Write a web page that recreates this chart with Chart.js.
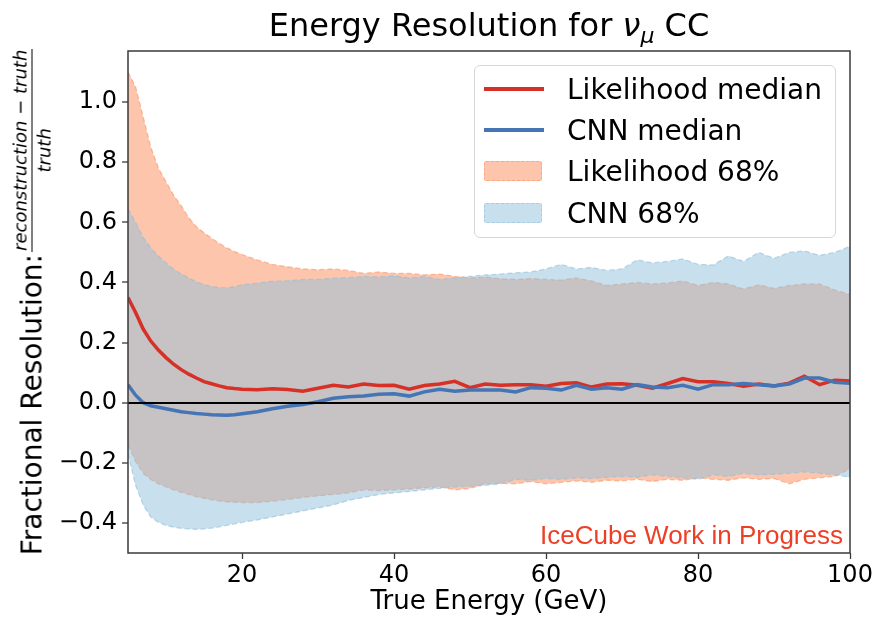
<!DOCTYPE html>
<html>
<head>
<meta charset="utf-8">
<script src="https://cdn.jsdelivr.net/npm/chart.js@4.4.1/dist/chart.umd.min.js"></script>
<style>
  body { margin: 0; background: #fff; }
  #wrap { position: relative; width: 880px; height: 618px; font-family: "DejaVu Sans", sans-serif; color: #000; }
  #grafico { position: absolute; left: 0; top: 0; }
  #titulo { position: absolute; left: 128px; width: 722px; top: 6px; text-align: center; font-size: 32px; white-space: nowrap; }
  #titulo sub { font-size: 22px; vertical-align: -7px; }
  #ylabel { position: absolute; left: 32px; top: 302px; width: 500px; transform: translate(-50%, -50%) rotate(-90deg);
            white-space: nowrap; font-size: 28px; display: flex; align-items: center; justify-content: center; }
  .frac { display: inline-flex; flex-direction: column; align-items: center; font-size: 18px; font-style: italic; margin-left: 2px; }
  .frac .num { border-bottom: 1.3px solid #000; padding: 0 1px 1px; }
  .frac .den { padding-top: 1px; }
  #leyenda { position: absolute; left: 474px; top: 65px; width: 362px; height: 173px; box-sizing: border-box;
             border: 1.3px solid #d6d6d6; border-radius: 6px; background: rgba(255,255,255,0.85); }
  .fila { position: absolute; left: 0; height: 40px; display: flex; align-items: center; }
  .fila .txt { position: absolute; left: 92px; font-size: 28px; white-space: nowrap; }
  .linea { position: absolute; left: 9px; width: 60px; height: 3.5px; }
  .parche { position: absolute; left: 9px; width: 58px; height: 20px; box-sizing: border-box; border-radius: 2px; border-width: 1.5px; border-style: dashed; }
  #marca { position: absolute; right: 37px; top: 520px; font-family: "Liberation Sans", Arial, sans-serif; font-size: 26px; color: #ec3f26; }
</style>
</head>
<body>
<div id="wrap">
  <canvas id="grafico" width="880" height="618"></canvas>
  <div id="titulo">Energy Resolution for <i>ν</i><sub><i>μ</i></sub> CC</div>
  <div id="ylabel">Fractional Resolution:<span class="frac"><span class="num">reconstruction − truth</span><span class="den">truth</span></span></div>
  <div id="leyenda">
    <div class="fila" style="top:3px"><span class="linea" style="background:#d73027"></span><span class="txt">Likelihood median</span></div>
    <div class="fila" style="top:44px"><span class="linea" style="background:#4575b4"></span><span class="txt">CNN median</span></div>
    <div class="fila" style="top:85px"><span class="parche" style="background:rgba(252,141,89,0.5);border-color:rgba(252,141,89,0.55)"></span><span class="txt">Likelihood 68%</span></div>
    <div class="fila" style="top:127px"><span class="parche" style="background:rgba(145,191,219,0.5);border-color:rgba(145,191,219,0.6)"></span><span class="txt">CNN 68%</span></div>
  </div>
  <div id="marca">IceCube Work in Progress</div>
</div>
<script>
// Resolución en energía — medianas y bandas del 68% (Likelihood vs CNN)

// ── Datos ────────────────────────────────────────────────────────────
const energia = [5, 6, 7, 8, 9, 10, 11, 12, 13, 14, 15, 16, 17, 18, 19, 20,
  22, 24, 26, 28, 30, 32, 34, 36, 38, 40, 42, 44, 46, 48, 50, 52, 54, 56, 58, 60,
  62, 64, 66, 68, 70, 72, 74, 76, 78, 80, 82, 84, 86, 88, 90, 92, 94, 96, 98, 100];

const likMediana = [0.35, 0.30, 0.245, 0.205, 0.175, 0.15, 0.128, 0.11, 0.095, 0.082, 0.07, 0.063, 0.056, 0.05, 0.047, 0.045,
  0.043, 0.046, 0.044, 0.038, 0.048, 0.058, 0.052, 0.062, 0.057, 0.058,
  0.045, 0.057, 0.062, 0.071, 0.05, 0.062, 0.058, 0.06, 0.06, 0.055,
  0.064, 0.066, 0.052, 0.062, 0.063, 0.058, 0.048, 0.064, 0.08, 0.07,
  0.07, 0.064, 0.055, 0.062, 0.056, 0.065, 0.088, 0.06, 0.075, 0.072];

const cnnMediana = [0.06, 0.025, 0.0, -0.01, -0.015, -0.02, -0.025, -0.03, -0.033, -0.036, -0.038, -0.04, -0.041, -0.042, -0.04, -0.037,
  -0.03, -0.02, -0.012, -0.006, 0.003, 0.015, 0.02, 0.022, 0.028, 0.03,
  0.022, 0.036, 0.045, 0.038, 0.042, 0.042, 0.042, 0.036, 0.05, 0.048,
  0.042, 0.058, 0.045, 0.05, 0.045, 0.06, 0.052, 0.05, 0.058, 0.045,
  0.06, 0.06, 0.064, 0.06, 0.056, 0.062, 0.082, 0.082, 0.068, 0.065];

const likAlto = [1.10, 1.05, 0.95, 0.85, 0.78, 0.735, 0.69, 0.655, 0.615, 0.585, 0.565, 0.547, 0.53, 0.515, 0.503, 0.493,
  0.475, 0.46, 0.452, 0.445, 0.442, 0.445, 0.44, 0.43, 0.435, 0.43,
  0.43, 0.425, 0.428, 0.42, 0.415, 0.418, 0.412, 0.41, 0.413, 0.41,
  0.408, 0.415, 0.405, 0.39, 0.395, 0.4, 0.395, 0.398, 0.405, 0.39,
  0.4, 0.395, 0.378, 0.392, 0.38, 0.39, 0.395, 0.395, 0.375, 0.36];

const likBajo = [-0.14, -0.195, -0.235, -0.255, -0.27, -0.28, -0.29, -0.298, -0.305, -0.313, -0.318, -0.323, -0.327, -0.33, -0.331, -0.332,
  -0.332, -0.328, -0.322, -0.315, -0.31, -0.305, -0.3, -0.29, -0.292, -0.29,
  -0.287, -0.283, -0.28, -0.29, -0.285, -0.27, -0.268, -0.27, -0.262, -0.27,
  -0.265, -0.26, -0.265, -0.258, -0.26, -0.255, -0.262, -0.255, -0.258, -0.25,
  -0.255, -0.258, -0.25, -0.255, -0.252, -0.27, -0.255, -0.25, -0.245, -0.22];

const cnnAlto = [0.645, 0.6, 0.55, 0.515, 0.488, 0.465, 0.445, 0.428, 0.415, 0.402, 0.393, 0.387, 0.383, 0.382, 0.386, 0.392,
  0.398, 0.404, 0.406, 0.41, 0.41, 0.414, 0.416, 0.42, 0.418, 0.422,
  0.415, 0.42, 0.41, 0.415, 0.42, 0.425, 0.428, 0.432, 0.435, 0.445,
  0.46, 0.445, 0.45, 0.44, 0.445, 0.475, 0.465, 0.47, 0.478, 0.46,
  0.458, 0.488, 0.47, 0.5, 0.48, 0.5, 0.505, 0.49, 0.5, 0.52];

const cnnBajo = [-0.17, -0.275, -0.34, -0.38, -0.398, -0.408, -0.414, -0.418, -0.42, -0.421, -0.42, -0.417, -0.413, -0.408, -0.403, -0.398,
  -0.39, -0.38, -0.37, -0.36, -0.35, -0.34, -0.325, -0.315, -0.305, -0.3,
  -0.295, -0.29, -0.285, -0.28, -0.278, -0.275, -0.27, -0.255, -0.258, -0.252,
  -0.255, -0.25, -0.252, -0.248, -0.245, -0.248, -0.24, -0.245, -0.25, -0.255,
  -0.24, -0.245, -0.235, -0.24, -0.238, -0.235, -0.23, -0.235, -0.24, -0.248];

const xTicks = [20, 40, 60, 80, 100];
const yTicks = [-0.4, -0.2, 0.0, 0.2, 0.4, 0.6, 0.8, 1.0];

// ── Paleta (RdYlBu) ──────────────────────────────────────────────────
const C_ROJO    = "#d73027";
const C_AZUL    = "#4575b4";
const C_NARANJA = "rgba(252,141,89,0.5)";
const C_CELESTE = "rgba(145,191,219,0.5)";

const FUENTE = "'DejaVu Sans', sans-serif";

function pts(ys) {
  return energia.map((e, i) => ({ x: e, y: ys[i] }));
}

function fmtY(v) {
  const s = Math.abs(v).toFixed(1);
  return v < -1e-9 ? "\u2212" + s : s;
}

const esCero = c => c.tick && Math.abs(c.tick.value) < 1e-9;

// Marco completo alrededor del área del gráfico (como los spines de matplotlib)
const marco = {
  id: "marco",
  afterDraw(chart) {
    const a = chart.chartArea, ctx = chart.ctx;
    ctx.save();
    ctx.strokeStyle = "#3a3a3a";
    ctx.lineWidth = 1.5;
    ctx.strokeRect(a.left, a.top, a.right - a.left, a.bottom - a.top);
    ctx.restore();
  }
};

const banda = (datos, fill, fondo, borde, orden) => ({
  data: pts(datos), fill, backgroundColor: fondo, borderColor: borde,
  borderWidth: 1.3, borderDash: [5, 3], pointRadius: 0, tension: 0, order: orden,
});

new Chart(document.getElementById("grafico"), {
  type: "line",
  data: {
    datasets: [
      { label: "Likelihood median", data: pts(likMediana), borderColor: C_ROJO, borderWidth: 3.5,
        pointRadius: 0, fill: false, tension: 0, order: 1 },
      { label: "CNN median", data: pts(cnnMediana), borderColor: C_AZUL, borderWidth: 3.5,
        pointRadius: 0, fill: false, tension: 0, order: 0 },
      { label: "Likelihood 68%", ...banda(likAlto, "+1", C_NARANJA, "rgba(252,141,89,0.55)", 3) },
      { label: "Likelihood 68% low", ...banda(likBajo, false, C_NARANJA, "rgba(252,141,89,0.55)", 3) },
      { label: "CNN 68%", ...banda(cnnAlto, "+1", C_CELESTE, "rgba(145,191,219,0.6)", 2) },
      { label: "CNN 68% low", ...banda(cnnBajo, false, C_CELESTE, "rgba(145,191,219,0.6)", 2) },
    ],
  },
  options: {
    responsive: false,
    animation: false,
    devicePixelRatio: 1,
    layout: { padding: { left: 0, right: 30, top: 51, bottom: 0 } },
    plugins: { legend: { display: false }, title: { display: false }, tooltip: { enabled: false } },
    scales: {
      x: {
        type: "linear", min: 5, max: 100,
        afterBuildTicks: s => { s.ticks = xTicks.map(v => ({ value: v })); },
        afterFit: s => { s.height = 65; },
        ticks: { font: { family: FUENTE, size: 24 }, color: "#000", padding: 2, maxRotation: 0 },
        grid: { drawOnChartArea: false, tickLength: 6, tickColor: "#3a3a3a", tickWidth: 1.3 },
        border: { display: false },
        title: { display: true, text: "True Energy (GeV)", font: { family: FUENTE, size: 26 }, color: "#000", padding: { top: 0, bottom: 0 } },
      },
      y: {
        type: "linear", min: -0.5, max: 1.17,
        afterBuildTicks: s => { s.ticks = yTicks.map(v => ({ value: v })); },
        afterFit: s => { s.width = 128; },
        ticks: { font: { family: FUENTE, size: 24 }, color: "#000", padding: 5, callback: fmtY },
        grid: {
          z: 1,
          tickLength: 6, tickColor: "#3a3a3a", tickWidth: 1.3,
          color: c => (esCero(c) ? "#000" : "rgba(0,0,0,0)"),
          lineWidth: c => (esCero(c) ? 2 : 0),
        },
        border: { display: false },
      },
    },
  },
  plugins: [marco],
});
</script>
</body>
</html>
